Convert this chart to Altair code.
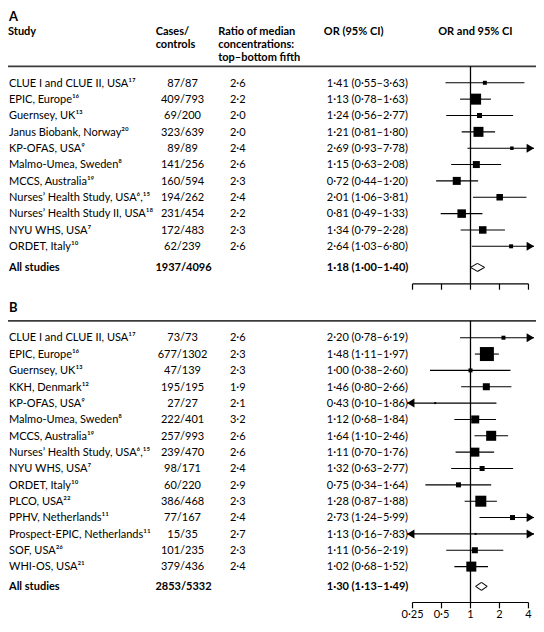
import altair as alt
import pandas as pd

# ---------------- data ----------------
A_STUDY = [
    "CLUE I and CLUE II, USA¹⁷", "EPIC, Europe¹⁶", "Guernsey, UK¹³",
    "Janus Biobank, Norway²⁰", "KP-OFAS, USA⁹", "Malmo-Umea, Sweden⁸",
    "MCCS, Australia¹⁹", "Nurses’ Health Study, USA⁶,¹⁵",
    "Nurses’ Health Study II, USA¹⁸", "NYU WHS, USA⁷", "ORDET, Italy¹⁰",
]
A_CASES = ["87/87", "409/793", "69/200", "323/639", "89/89", "141/256",
           "160/594", "194/262", "231/454", "172/483", "62/239"]
A_RATIO = ["2·6", "2·2", "2·0", "2·0", "2·4", "2·6", "2·3", "2·4", "2·2", "2·3", "2·6"]
A_OR = [1.41, 1.13, 1.24, 1.21, 2.69, 1.15, 0.72, 2.01, 0.81, 1.34, 2.64]
A_LO = [0.55, 0.78, 0.56, 0.81, 0.93, 0.63, 0.44, 1.06, 0.49, 0.79, 1.03]
A_HI = [3.63, 1.63, 2.77, 1.80, 7.78, 2.08, 1.20, 3.81, 1.33, 2.28, 6.80]
A_BOX = [4, 11, 5, 10, 3.5, 7, 8, 6.5, 8.5, 7.5, 4]          # square side, px
A_ALL_CASES = "1937/4096"
A_ALL = [1.18, 1.00, 1.40]

B_STUDY = [
    "CLUE I and CLUE II, USA¹⁷", "EPIC, Europe¹⁶", "Guernsey, UK¹³",
    "KKH, Denmark¹²", "KP-OFAS, USA⁹", "Malmo-Umea, Sweden⁸",
    "MCCS, Australia¹⁹", "Nurses’ Health Study, USA⁶,¹⁵", "NYU WHS, USA⁷",
    "ORDET, Italy¹⁰", "PLCO, USA²²", "PPHV, Netherlands¹¹",
    "Prospect-EPIC, Netherlands¹¹", "SOF, USA²⁶", "WHI-OS, USA²¹",
]
B_CASES = ["73/73", "677/1302", "47/139", "195/195", "27/27", "222/401",
           "257/993", "239/470", "98/171", "60/220", "386/468", "77/167",
           "15/35", "101/235", "379/436"]
B_RATIO = ["2·6", "2·3", "2·3", "1·9", "2·1", "3·2", "2·6", "2·6", "2·4",
           "2·9", "2·3", "2·4", "2·7", "2·3", "2·4"]
B_OR = [2.20, 1.48, 1.00, 1.46, 0.43, 1.12, 1.64, 1.11, 1.32, 0.75, 1.28,
        2.73, 1.13, 1.11, 1.02]
B_LO = [0.78, 1.11, 0.38, 0.80, 0.10, 0.68, 1.10, 0.70, 0.63, 0.34, 0.87,
        1.24, 0.16, 0.56, 0.68]
B_HI = [6.19, 1.97, 2.60, 2.66, 1.86, 1.84, 2.46, 1.76, 2.77, 1.64, 1.88,
        5.99, 7.83, 2.19, 1.52]
B_BOX = [4, 14, 4, 7, 2, 8, 10, 9, 5, 5, 11, 5, 2, 6, 10]
B_ALL_CASES = "2853/5332"
B_ALL = [1.30, 1.13, 1.49]

TICKS = [0.25, 0.5, 1, 2, 4]
TICK_LABELS = ["0·25", "0·5", "1", "2", "4"]

# ---------------- layout ----------------
W, H = 528, 612
KX, KY = W / 540, H / 630


def X(r):
    return round((r - 2) * KX, 2)


def Y(r):
    return round((r - 2) * KY, 2)


ROW0, ROW_STEP = 79.0, 16.83        # reference px of first row / row pitch
B_OFFSET = 15.59                    # panel B first row, in rows
A_SUM_ROW, B_SUM_ROW = 11.29, B_OFFSET + 15.21
TIP_HI, TIP_LO = 4.57, 0.219        # where clipped CIs end (arrow tips)
DIAM = 0.245                        # diamond half-height, rows
FONT = "Lato"
FS = 11
INK = "#000000"
TXT_DY = 3.8


def fmt(v):
    return f"{v:.2f}".replace(".", "·")


def study_frame(study, cases, ratio, est, lo, hi, box, offset):
    df = pd.DataFrame({"study": study, "cases": cases, "ratio": ratio,
                       "est": est, "lo": lo, "hi": hi, "box": box})
    df["row"] = [offset + i for i in range(len(df))]
    df["ci"] = [f"{fmt(e)} ({fmt(l)}–{fmt(h)})" for e, l, h in zip(est, lo, hi)]
    df["lo_c"] = df["lo"].clip(lower=TIP_LO)
    df["hi_c"] = df["hi"].clip(upper=TIP_HI)
    df["area"] = df["box"] ** 2
    return df


studies = pd.concat([
    study_frame(A_STUDY, A_CASES, A_RATIO, A_OR, A_LO, A_HI, A_BOX, 0),
    study_frame(B_STUDY, B_CASES, B_RATIO, B_OR, B_LO, B_HI, B_BOX, B_OFFSET),
], ignore_index=True)

summary = pd.DataFrame({
    "label": ["All studies", "All studies"],
    "cases": [A_ALL_CASES, B_ALL_CASES],
    "est": [A_ALL[0], B_ALL[0]], "lo": [A_ALL[1], B_ALL[1]], "hi": [A_ALL[2], B_ALL[2]],
    "row": [A_SUM_ROW, B_SUM_ROW],
})
summary["ci"] = [f"{fmt(e)} ({fmt(l)}–{fmt(h)})"
                 for e, l, h in zip(summary.est, summary.lo, summary.hi)]

seg = []
for _, r in summary.iterrows():
    seg += [
        dict(x=r.lo, x2=r.est, y=r.row, y2=r.row - DIAM),
        dict(x=r.est, x2=r.hi, y=r.row - DIAM, y2=r.row),
        dict(x=r.hi, x2=r.est, y=r.row, y2=r.row + DIAM),
        dict(x=r.est, x2=r.lo, y=r.row + DIAM, y2=r.row),
    ]
diamond = pd.DataFrame(seg)

right_arrows = studies[studies.hi > TIP_HI][["row"]].assign(x=TIP_HI)
left_arrows = studies[studies.lo < TIP_LO][["row"]].assign(x=TIP_LO)

ticks = pd.DataFrame({"v": TICKS, "lab": TICK_LABELS})
axis_span = pd.DataFrame({"lo": [min(TICKS)], "hi": [max(TICKS)]})
one = pd.DataFrame({"k": [0]})

xs = alt.Scale(type="log", domain=[0.25, 4], range=[X(415.7), X(534.3)],
               nice=False, zero=False)
ys = alt.Scale(domain=[0, 1], range=[Y(ROW0), Y(ROW0 + ROW_STEP)],
               nice=False, zero=False)

XQ = lambda f: alt.X(f, type="quantitative", scale=xs, axis=None)
YQ = lambda f: alt.Y(f, type="quantitative", scale=ys, axis=None)

layers = []

# header rules
for yy in (62, 324):
    layers.append(alt.Chart(one).mark_rule(color="#3c3c3c", strokeWidth=1.8).encode(
        x=alt.value(0), x2=alt.value(W), y=alt.value(Y(yy))))

# vertical line at OR = 1
for y1, y2 in ((62, 286), (324, 614)):
    layers.append(alt.Chart(one).mark_rule(color=INK, strokeWidth=1.3).encode(
        x=alt.X(datum=1, type="quantitative", scale=xs, axis=None),
        y=alt.value(Y(y1)), y2=alt.value(Y(y2))))

# axes (A without labels, B with labels)
for ay in (286, 614):
    layers.append(alt.Chart(axis_span).mark_rule(color=INK, strokeWidth=1.2).encode(
        x=XQ("lo"), x2="hi:Q", y=alt.value(Y(ay))))
    layers.append(alt.Chart(ticks).mark_rule(color=INK, strokeWidth=1.2).encode(
        x=XQ("v"), y=alt.value(Y(ay)), y2=alt.value(Y(ay + 6))))
layers.append(alt.Chart(ticks).mark_text(font=FONT, fontSize=FS, color=INK,
                                         baseline="alphabetic").encode(
    x=XQ("v"), y=alt.value(Y(630)), text="lab:N"))

# confidence intervals
layers.append(alt.Chart(studies).mark_rule(color=INK, strokeWidth=1.1).encode(
    x=XQ("lo_c"), x2="hi_c:Q", y=YQ("row")))
# arrows
layers.append(alt.Chart(right_arrows).mark_point(
    shape="M -0.83 -1 L 0.83 0 L -0.83 1 Z", filled=True, opacity=1,
    color=INK, size=81, xOffset=-3.7, strokeWidth=0).encode(x=XQ("x"), y=YQ("row")))
layers.append(alt.Chart(left_arrows).mark_point(
    shape="M 0.83 -1 L -0.83 0 L 0.83 1 Z", filled=True, opacity=1,
    color=INK, size=81, xOffset=3.7, strokeWidth=0).encode(x=XQ("x"), y=YQ("row")))
# squares
layers.append(alt.Chart(studies).mark_square(color="black", opacity=1).encode(
    x=XQ("est"), y=YQ("row"), size=alt.Size("area:Q", scale=None, legend=None)))
# diamonds
layers.append(alt.Chart(diamond).mark_rule(color=INK, strokeWidth=1.1).encode(
    x=XQ("x"), x2="x2:Q", y=YQ("y"), y2="y2:Q"))

# row texts
txt = dict(font=FONT, fontSize=FS, color=INK, baseline="alphabetic", dy=TXT_DY)
layers.append(alt.Chart(studies).mark_text(align="left", **txt).encode(
    x=alt.value(1), y=YQ("row"), text="study:N"))
layers.append(alt.Chart(studies).mark_text(align="center", **txt).encode(
    x=alt.value(X(180.5)), y=YQ("row"), text="cases:N"))
layers.append(alt.Chart(studies).mark_text(align="left", **txt).encode(
    x=alt.value(X(229)), y=YQ("row"), text="ratio:N"))
layers.append(alt.Chart(studies).mark_text(align="left", **txt).encode(
    x=alt.value(X(328)), y=YQ("row"), text="ci:N"))

btxt = dict(txt, fontWeight="bold")
layers.append(alt.Chart(summary).mark_text(align="left", **btxt).encode(
    x=alt.value(1), y=YQ("row"), text="label:N"))
layers.append(alt.Chart(summary).mark_text(align="center", **btxt).encode(
    x=alt.value(X(181.5)), y=YQ("row"), text="cases:N"))
layers.append(alt.Chart(summary).mark_text(align="left", **btxt).encode(
    x=alt.value(X(328)), y=YQ("row"), text="ci:N"))

# headers
hdr = dict(font=FONT, fontSize=FS, color=INK, fontWeight="bold",
           baseline="alphabetic", lineHeight=13.6 * KY)
for text, hx, align in ((["Study"], X(2), "left"),
                        (["Cases/", "controls"], X(153), "left"),
                        (["Ratio of median", "concentrations:", "top–bottom fifth"], X(217), "left"),
                        (["OR (95% CI)"], X(325), "left"),
                        (["OR and 95% CI"], X(480), "center")):
    layers.append(alt.Chart(one).mark_text(text=text, align=align, **hdr).encode(
        x=alt.value(hx), y=alt.value(Y(29.5))))
for lab, by in (("A", 15.4), ("B", 315)):
    layers.append(alt.Chart(one).mark_text(text=lab, align="left", font=FONT,
                                           fontSize=13, fontWeight="bold", color=INK,
                                           baseline="alphabetic").encode(
        x=alt.value(1), y=alt.value(Y(by))))

chart = alt.layer(*layers).properties(
    width=W, height=H, padding=0,
    autosize=alt.AutoSizeParams(type="none"),
).configure_view(stroke=None)

chart.save("out.html", embed_options={"renderer": "svg", "actions": False})
